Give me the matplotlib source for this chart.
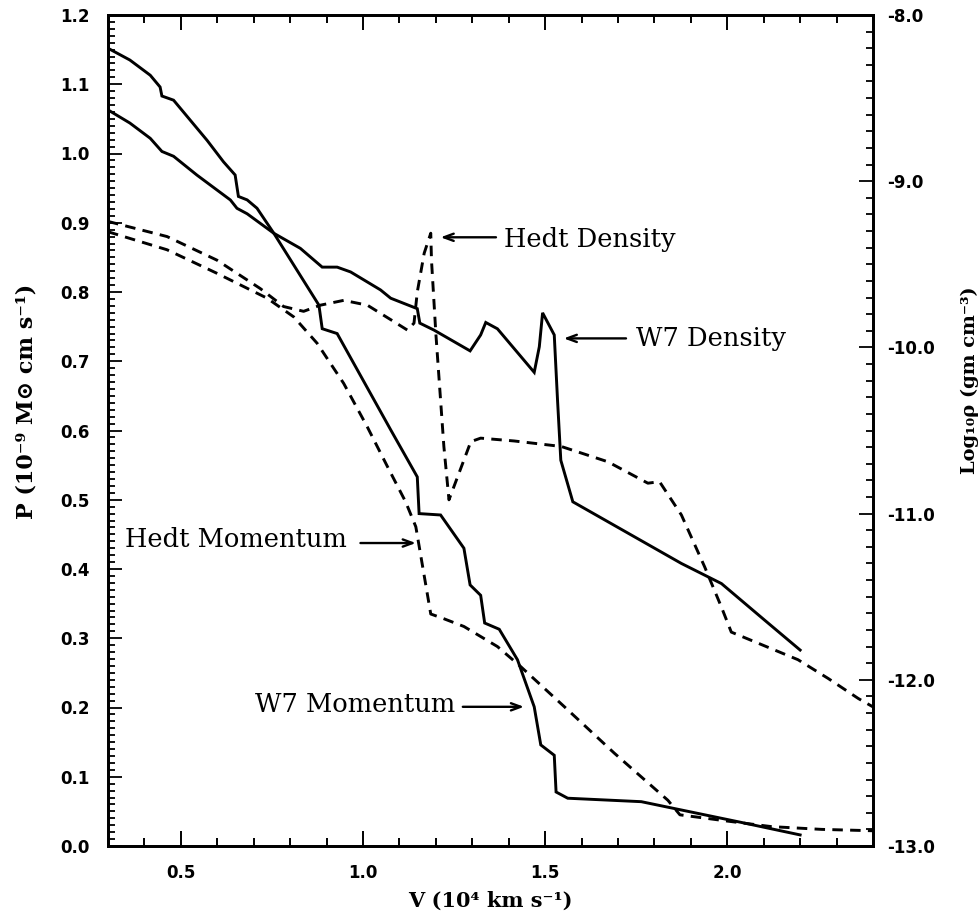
import matplotlib
matplotlib.use('Agg')
import matplotlib.pyplot as plt
from matplotlib.ticker import MultipleLocator, FormatStrFormatter

plt.rcParams['axes.unicode_minus'] = False

# ---------------- data ----------------
# W7 momentum (left axis, 1e-9 Msun cm/s)
w7_mom_v = [0.30, 0.36, 0.416, 0.443, 0.448, 0.48, 0.526, 0.572, 0.617, 0.649, 0.658, 0.682,
            0.709, 0.755, 0.879, 0.888, 0.929, 1.076, 1.149, 1.154, 1.213, 1.277, 1.294, 1.323,
            1.334, 1.374, 1.424, 1.470, 1.488, 1.525, 1.530, 1.562, 1.764, 1.874, 2.03, 2.20]
w7_mom_p = [1.152, 1.135, 1.113, 1.096, 1.083, 1.077, 1.048, 1.019, 0.988, 0.969, 0.938, 0.933,
            0.921, 0.885, 0.781, 0.747, 0.740, 0.601, 0.533, 0.480, 0.478, 0.430, 0.377, 0.362,
            0.322, 0.313, 0.269, 0.201, 0.146, 0.131, 0.078, 0.069, 0.064, 0.052, 0.035, 0.016]

# Hedt momentum (left axis)
hedt_mom_v = [0.30, 0.462, 0.599, 0.737, 0.810, 0.874, 0.947, 1.012, 1.067, 1.117, 1.145, 1.186,
              1.218, 1.277, 1.369, 1.433, 1.553, 1.690, 1.837, 1.87, 2.0, 2.121, 2.259, 2.40]
hedt_mom_p = [0.887, 0.861, 0.827, 0.791, 0.764, 0.726, 0.668, 0.605, 0.548, 0.497, 0.461, 0.335,
              0.329, 0.317, 0.288, 0.259, 0.201, 0.134, 0.066, 0.045, 0.036, 0.028, 0.024, 0.022]

# W7 density (right axis, log10 rho)
w7_den_v = [0.30, 0.36, 0.416, 0.448, 0.48, 0.544, 0.636, 0.654, 0.682, 0.755, 0.828, 0.888,
            0.929, 0.966, 1.048, 1.076, 1.149, 1.156, 1.195, 1.294, 1.323, 1.337, 1.369, 1.470,
            1.484, 1.493, 1.525, 1.534, 1.543, 1.576, 1.874, 1.984, 2.103, 2.20]
w7_den_logrho = [-8.571, -8.650, -8.742, -8.821, -8.850, -8.963, -9.113, -9.163, -9.196, -9.313,
                 -9.404, -9.517, -9.517, -9.546, -9.654, -9.704, -9.767, -9.854, -9.896, -10.021,
                 -9.925, -9.850, -9.888, -10.150, -9.996, -9.792, -9.925, -10.317, -10.679,
                 -10.929, -11.300, -11.421, -11.642, -11.821]

# Hedt density (right axis)
hedt_den_v = [0.30, 0.462, 0.599, 0.718, 0.782, 0.837, 0.883, 0.947, 1.012, 1.076, 1.122, 1.140,
              1.149, 1.168, 1.186, 1.188, 1.200, 1.222, 1.236, 1.296, 1.323, 1.415, 1.544, 1.672,
              1.782, 1.814, 1.874, 1.938, 1.984, 2.011, 2.075, 2.194, 2.277, 2.36, 2.40]
hedt_den_logrho = [-9.242, -9.333, -9.475, -9.646, -9.754, -9.783, -9.746, -9.717, -9.746, -9.833,
                   -9.896, -9.854, -9.667, -9.433, -9.313, -9.475, -9.917, -10.596, -10.917,
                   -10.567, -10.546, -10.563, -10.596, -10.688, -10.817, -10.808, -11.008, -11.321,
                   -11.563, -11.713, -11.771, -11.879, -11.992, -12.113, -12.163]

x_ticks = [0.5, 1.0, 1.5, 2.0]
left_ticks = [0.0, 0.1, 0.2, 0.3, 0.4, 0.5, 0.6, 0.7, 0.8, 0.9, 1.0, 1.1, 1.2]
right_ticks = [-13.0, -12.0, -11.0, -10.0, -9.0, -8.0]

xlabel = 'V (10\u2074 km s\u207b\u00b9)'
ylabel_left = 'P (10\u207b\u2079 M\u2299 cm s\u207b\u00b9)'
ylabel_right = 'Log\u2081\u2080\u03c1 (gm cm\u207b\u00b3)'

# ---------------- figure ----------------
W, H = 980, 915
fig = plt.figure(figsize=(W / 100, H / 100), dpi=100)
L, R, T, B = 108, 873, 15, 846
ax = fig.add_axes([L / W, 1 - B / H, (R - L) / W, (B - T) / H])
ax2 = ax.twinx()

dash = (0, (3.6, 2.5))
ax.plot(w7_mom_v, w7_mom_p, color='black', lw=2.1, solid_joinstyle='miter')
ax.plot(hedt_mom_v, hedt_mom_p, color='black', lw=2.1, linestyle=dash)
ax2.plot(w7_den_v, w7_den_logrho, color='black', lw=2.1, solid_joinstyle='miter')
ax2.plot(hedt_den_v, hedt_den_logrho, color='black', lw=2.1, linestyle=dash)

ax.set_xlim(0.3, 2.4)
ax.set_ylim(0.0, 1.2)
ax2.set_ylim(-13.0, -8.0)

ax.set_xticks(x_ticks)
ax.xaxis.set_minor_locator(MultipleLocator(0.1))
ax.set_yticks(left_ticks)
ax.yaxis.set_minor_locator(MultipleLocator(0.01))
ax2.set_yticks(right_ticks)
ax2.yaxis.set_minor_locator(MultipleLocator(0.1))
ax.xaxis.set_major_formatter(FormatStrFormatter('%.1f'))
ax.yaxis.set_major_formatter(FormatStrFormatter('%.1f'))
ax2.yaxis.set_major_formatter(FormatStrFormatter('%.1f'))

ax.tick_params(axis='x', which='both', direction='in', top=True, bottom=True, width=1.4, pad=13)
ax.tick_params(axis='x', which='major', length=11)
ax.tick_params(axis='x', which='minor', length=5.5)
ax.tick_params(axis='y', which='both', direction='in', left=True, right=False, width=1.3, pad=13)
ax.tick_params(axis='y', which='major', length=10)
ax.tick_params(axis='y', which='minor', length=5)
ax2.tick_params(axis='y', which='both', direction='in', right=True, left=False, width=1.3, pad=10)
ax2.tick_params(axis='y', which='major', length=10)
ax2.tick_params(axis='y', which='minor', length=5)

for lab in ax.get_xticklabels() + ax.get_yticklabels() + ax2.get_yticklabels():
    lab.set_fontfamily('DejaVu Sans')
    lab.set_fontweight('bold')
    lab.set_fontsize(12)

for a in (ax, ax2):
    for s in a.spines.values():
        s.set_linewidth(2.0)

serif = ['DejaVu Serif', 'DejaVu Sans']
ax.set_xlabel(xlabel, fontdict=dict(family=serif, weight='bold', size=15), labelpad=6)
ax.set_ylabel(ylabel_left, fontdict=dict(family=serif, weight='bold', size=16))
ax.yaxis.set_label_coords(-0.092, 0.535)
ax2.set_ylabel(ylabel_right, fontdict=dict(family=serif, weight='bold', size=14))
ax2.yaxis.set_label_coords(1.115, 0.56)

# ---------------- annotations ----------------
ann_font = dict(family=serif, size=18.5)
arrow = dict(arrowstyle='->,head_length=0.7,head_width=0.26', lw=1.7, color='black',
             shrinkA=0, shrinkB=0)

ax.annotate('', xy=(1.213, 0.879), xytext=(1.365, 0.879), arrowprops=arrow)
ax.text(1.387, 0.876, 'Hedt Density', ha='left', va='center', fontdict=ann_font)

ax.annotate('', xy=(1.551, 0.733), xytext=(1.722, 0.733), arrowprops=arrow)
ax.text(1.750, 0.733, 'W7 Density', ha='left', va='center', fontdict=ann_font)

ax.text(0.347, 0.442, 'Hedt Momentum', ha='left', va='center', fontdict=ann_font)
ax.annotate('', xy=(1.145, 0.4375), xytext=(0.993, 0.4375), arrowprops=arrow)

ax.text(0.704, 0.204, 'W7 Momentum', ha='left', va='center', fontdict=ann_font)
ax.annotate('', xy=(1.442, 0.201), xytext=(1.274, 0.201), arrowprops=arrow)

fig.savefig('out.png', dpi=100)
